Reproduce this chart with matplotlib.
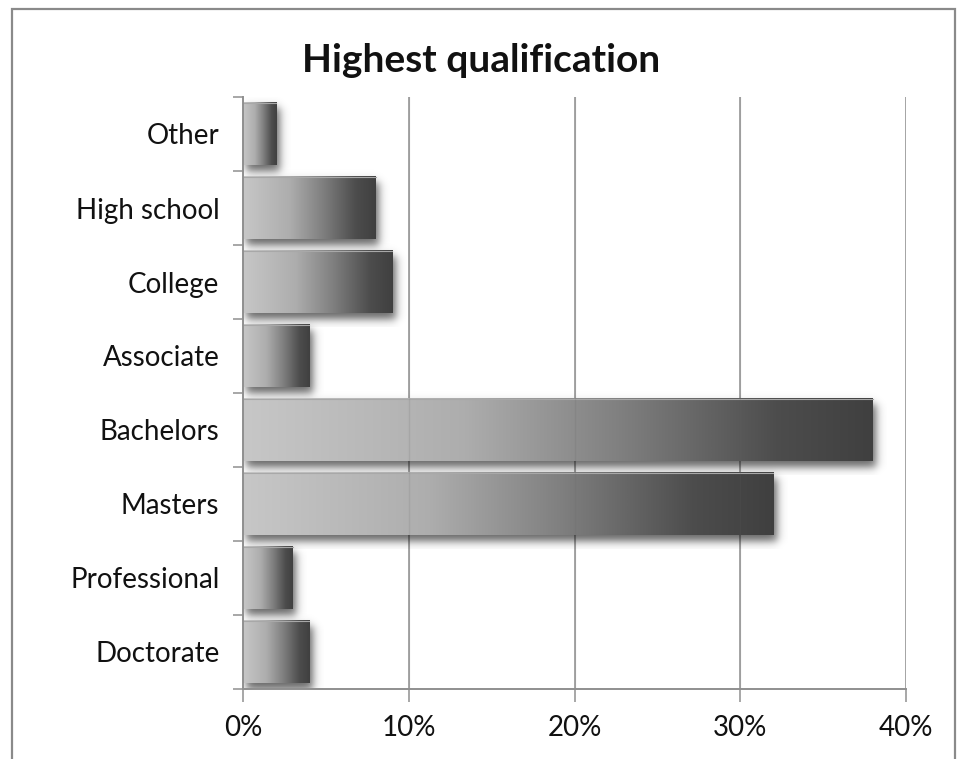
import numpy as np
import matplotlib.pyplot as plt
from matplotlib.colors import LinearSegmentedColormap
from matplotlib.patches import Rectangle
from matplotlib.ticker import PercentFormatter

plt.rcParams['font.family'] = ['Lato', 'DejaVu Sans']

# Share of respondents by highest qualification (%)
categories = ['Other', 'High school', 'College', 'Associate',
              'Bachelors', 'Masters', 'Professional', 'Doctorate']
shares = [2, 8, 9, 4, 38, 32, 3, 4]
x_ticks = [0, 10, 20, 30, 40]

# light-to-dark grey fill used along every bar
shade = LinearSegmentedColormap.from_list('shade', [
    (0.00, (0.78, 0.78, 0.78)),
    (0.35, (0.68, 0.68, 0.68)),
    (0.60, (0.50, 0.50, 0.50)),
    (0.85, (0.30, 0.30, 0.30)),
    (1.00, (0.25, 0.25, 0.25)),
])

W, H = 963, 759
fig = plt.figure(figsize=(W / 100, H / 100), dpi=100)
ax = fig.add_axes([243 / W, 1 - 689 / H, (906 - 243) / W, (689 - 97) / H])

xmax = 40
ncat = len(categories)
px_x = (906 - 243) / xmax      # pixels per percent
px_y = (689 - 97) / ncat       # pixels per category

bar_h = 0.85
ypos = np.arange(ncat)
grad = np.linspace(0, 1, 256).reshape(1, -1)


def sig(t, s=2.6):
    return 1 / (1 + np.exp(-t / s))


def drop_shadow(v, top, bot, dx=3, dy=6, pad=14, alpha=0.6):
    # blurred dark rectangle, offset down-right, in pixel units
    x0, x1 = -pad, v * px_x + pad
    y0, y1 = top * px_y - pad, bot * px_y + pad
    xs = np.arange(x0, x1, 0.5)
    ys = np.arange(y0, y1, 0.5)
    ax_ = sig(xs - dx) * sig(v * px_x + dx - xs)
    ay_ = sig(ys - (top * px_y + dy)) * sig(bot * px_y + dy - ys)
    a = alpha * np.outer(ay_, ax_)
    img = np.zeros(a.shape + (4,))
    img[..., 3] = a
    ax.imshow(img, extent=(x0 / px_x, x1 / px_x, y1 / px_y, y0 / px_y),
              aspect='auto', interpolation='bilinear', zorder=2)


for y, v in zip(ypos, shares):
    top, bot = y - bar_h / 2, y + bar_h / 2
    drop_shadow(v, top, bot)
    ax.imshow(grad, cmap=shade, extent=(0, v, bot, top), aspect='auto',
              interpolation='bicubic', zorder=3)
    ax.plot([0, v], [top, top], color='#a8a8a8', lw=0.8, zorder=4)

# vertical grid, faint copy over the bars
for t in x_ticks[1:]:
    ax.axvline(t, color='#8f8f8f', lw=1.1, zorder=1)
    ax.axvline(t, color='#606060', lw=1.0, alpha=0.15, zorder=5)

ax.set_xlim(0, xmax)
ax.set_ylim(ncat - 0.5, -0.5)
ax.set_xticks(x_ticks)
ax.xaxis.set_major_formatter(PercentFormatter(decimals=0))
ax.set_yticks(ypos)
ax.set_yticklabels(categories)
ax.set_yticks(np.arange(-0.5, ncat), minor=True)

ax.tick_params(axis='y', which='major', length=0, pad=17, labelsize=20,
               labelcolor='#111111')
ax.tick_params(axis='y', which='minor', length=7, width=1.1, color='#8f8f8f')
ax.tick_params(axis='x', length=9, width=1.1, color='#8f8f8f', pad=10,
               labelsize=20, labelcolor='#111111')

for s in ['top', 'right']:
    ax.spines[s].set_visible(False)
for s in ['left', 'bottom']:
    ax.spines[s].set_color('#8f8f8f')
    ax.spines[s].set_linewidth(1.4)
    ax.spines[s].set_zorder(6)

fig.text(0.5, 1 - 60 / H, 'Highest qualification', ha='center', va='center',
         fontsize=28, fontweight='bold', color='#111111')

# outer chart frame (bottom edge runs off the image)
fig.patches.append(Rectangle((12 / W, -0.05), (955 - 12) / W, 1.05 - 9 / H,
                             transform=fig.transFigure, fill=False,
                             edgecolor='#8a8a8a', lw=1.6))

fig.savefig('out.png', dpi=100)
